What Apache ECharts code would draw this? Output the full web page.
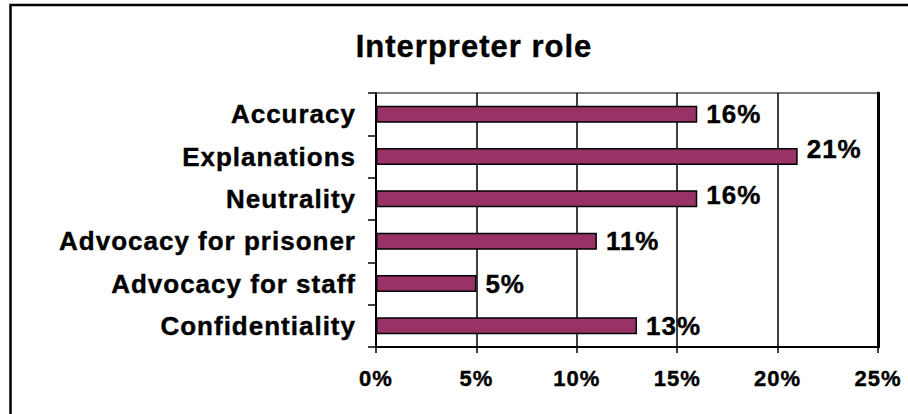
<!DOCTYPE html>
<html><head><meta charset="utf-8">
<script src="https://cdn.jsdelivr.net/npm/echarts@6/dist/echarts.min.js"></script>
<style>
html,body{margin:0;padding:0;background:#fff;}
#chart{width:908px;height:414px;}
#chart text{letter-spacing:1px;}
</style></head><body><div id="chart"></div>
<script>
const titleText = 'Interpreter role';
const categories = ['Accuracy', 'Explanations', 'Neutrality', 'Advocacy for prisoner', 'Advocacy for staff', 'Confidentiality'];
const values = [16, 21, 16, 11, 5, 13];
const xTickLabels = ['0%', '5%', '10%', '15%', '20%', '25%'];
const xMin = 0, xMax = 25, xStep = 5;

const FONT = '"Liberation Sans", Arial, sans-serif';
const labelShift = {1: -8, 2: -4};
const heavy = {textBorderColor: '#000', textBorderWidth: 0.4};

const chart = echarts.init(document.getElementById('chart'), null, {renderer: 'svg'});
chart.setOption({
  backgroundColor: '#fff',
  animation: false,
  title: {
    text: titleText, left: 469, top: 26, textAlign: 'center',
    textStyle: Object.assign({fontFamily: FONT, fontWeight: 'bold', fontSize: 31, color: '#000'}, heavy)
  },
  graphic: [{
    type: 'rect', silent: true, z: 100,
    shape: {x: 10.5, y: 5, width: 1000, height: 1000},
    style: {fill: 'none', stroke: '#000', lineWidth: 2.5}
  }],
  grid: {left: 376, top: 93, right: 30, bottom: 67, show: true, borderColor: '#000', borderWidth: 1},
  xAxis: {
    type: 'value', min: xMin, max: xMax, interval: xStep,
    axisLine: {show: true, lineStyle: {color: '#000', width: 2}},
    axisTick: {show: true, length: 6, lineStyle: {color: '#000', width: 1.5}},
    splitLine: {show: true, lineStyle: {color: '#000', width: 1.5}},
    axisLabel: Object.assign({
      margin: 20, color: '#000', fontFamily: FONT, fontWeight: 'bold', fontSize: 22,
      formatter: (v) => xTickLabels[Math.round((v - xMin) / xStep)]
    }, heavy)
  },
  yAxis: [{
    type: 'category', data: categories, inverse: true,
    axisLine: {show: true, lineStyle: {color: '#000', width: 2}},
    axisTick: {show: true, length: 8, lineStyle: {color: '#000', width: 1.5}},
    axisLabel: Object.assign({margin: 20, color: '#000', fontFamily: FONT, fontWeight: 'bold', fontSize: 26}, heavy)
  }, {
    type: 'category', data: categories, inverse: true, position: 'right',
    axisLine: {show: true, lineStyle: {color: '#000', width: 3}},
    axisTick: {show: false}, axisLabel: {show: false}
  }],
  series: [{
    type: 'bar', barWidth: '40%',
    data: values.map((v, i) => ({
      value: v,
      label: labelShift[i] ? {offset: [0, labelShift[i]]} : undefined
    })),
    itemStyle: {color: '#993366', borderColor: '#000', borderWidth: 1.5},
    label: Object.assign({
      show: true, position: 'right', distance: 9, color: '#000',
      fontFamily: FONT, fontWeight: 'bold', fontSize: 26,
      formatter: (p) => p.value + '%'
    }, heavy)
  }]
});
</script></body></html>
